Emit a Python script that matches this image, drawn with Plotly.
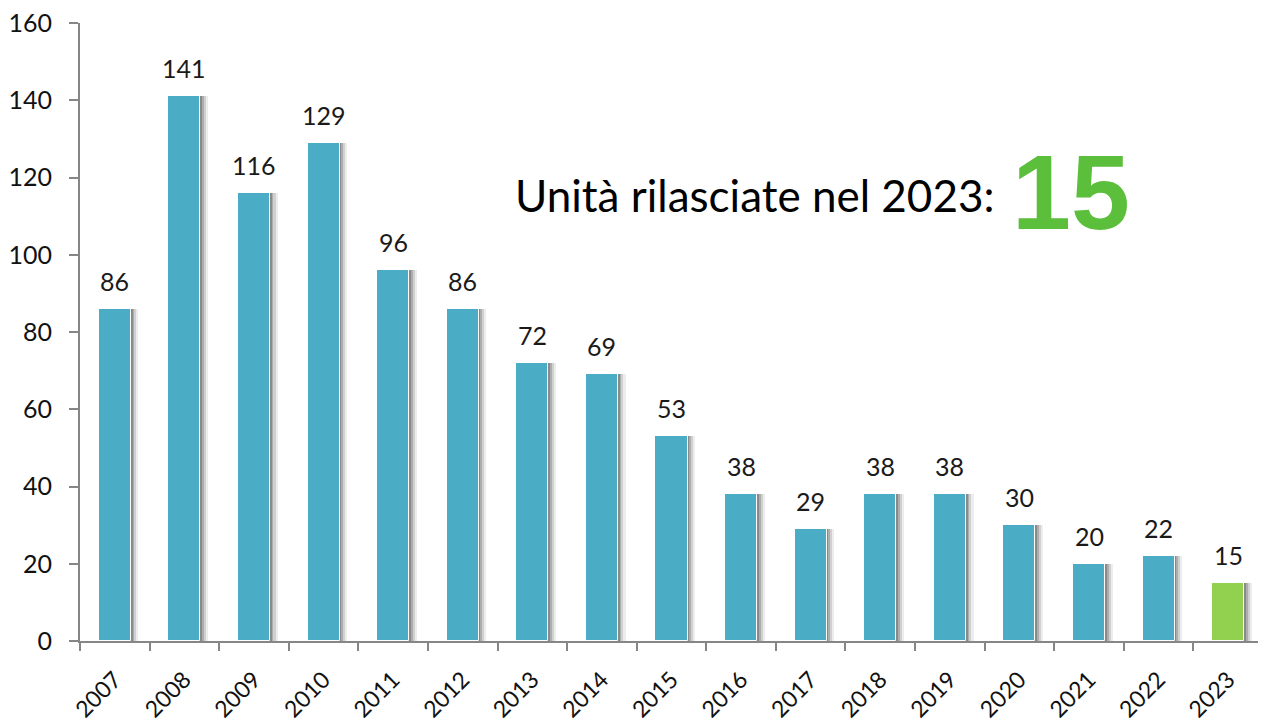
import plotly.graph_objects as go

years = ["2007", "2008", "2009", "2010", "2011", "2012", "2013", "2014", "2015",
         "2016", "2017", "2018", "2019", "2020", "2021", "2022", "2023"]
units = [86, 141, 116, 129, 96, 86, 72, 69, 53, 38, 29, 38, 38, 30, 20, 22, 15]
bar_colors = ["#4BACC6"] * 16 + ["#92D050"]
y_ticks = [0, 20, 40, 60, 80, 100, 120, 140, 160]
headline_text = "Unità rilasciate nel 2023:"
headline_value = "15"

FONT = "Lato, 'Open Sans', sans-serif"
W = 0.46

fig = go.Figure()
# soft shadows to the right of each bar
for off, col in [(0.11, "rgba(0,0,0,0.07)"), (0.08, "rgba(0,0,0,0.12)"),
                 (0.05, "rgba(0,0,0,0.17)"), (0.025, "rgba(0,0,0,0.2)")]:
    fig.add_trace(go.Bar(x=years, y=units, width=W, offset=-W / 2 + off,
                         marker=dict(color=col, line=dict(width=0)),
                         hoverinfo="skip", showlegend=False))
fig.add_trace(go.Bar(x=years, y=units, width=W, offset=-W / 2,
                     marker=dict(color=bar_colors, line=dict(color="white", width=1)),
                     showlegend=False))

for i, v in enumerate(units):
    fig.add_annotation(x=i, y=v, text=str(v), showarrow=False, yanchor="bottom",
                       yshift=11, font=dict(family=FONT, size=25, color="#1a1a1a"))

fig.add_annotation(xref="paper", yref="paper", x=0.774, y=0.722, xanchor="right", yanchor="middle",
                   text=headline_text, showarrow=False,
                   font=dict(family=FONT, size=44, color="#000000"))
fig.add_annotation(xref="paper", yref="paper", x=0.786, y=0.727, xanchor="left", yanchor="middle",
                   text="<b>" + headline_value + "</b>", showarrow=False,
                   font=dict(family="'Liberation Sans', Arial, sans-serif", size=106, color="#5CBF3C"))

fig.update_layout(
    width=1258, height=714,
    margin=dict(l=72, r=3, t=15, b=81),
    paper_bgcolor="white", plot_bgcolor="white",
    barmode="overlay", bargap=0,
    xaxis=dict(type="category", range=[-0.5, len(years) - 0.5], showline=True,
               linecolor="#868686", linewidth=2, automargin=False,
               ticks="outside", tickson="boundaries", ticklen=8, tickcolor="#868686",
               tickwidth=2, tickangle=-45, showgrid=False, ticklabelstandoff=14,
               ticklabeloverflow="allow",
               tickfont=dict(family=FONT, size=23, color="#111111")),
    yaxis=dict(range=[0, 160], tickvals=y_ticks, showline=True, linecolor="#868686",
               linewidth=2, ticks="outside", ticklen=9, tickcolor="#868686", tickwidth=2,
               showgrid=False, zeroline=False, automargin=False, ticklabelstandoff=12,
               ticklabeloverflow="allow",
               tickfont=dict(family=FONT, size=25, color="#111111")),
)

fig.write_html("out.html")
